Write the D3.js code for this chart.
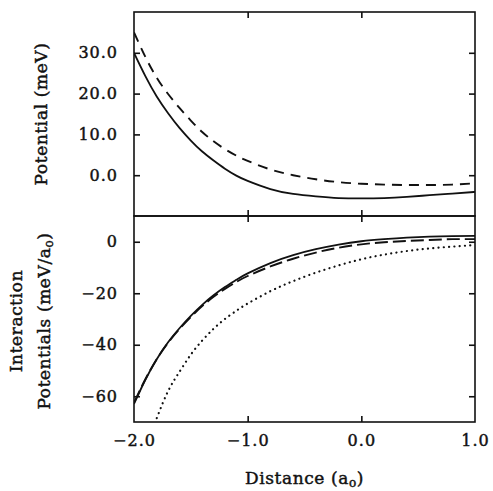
<!DOCTYPE html>
<html><head><meta charset="utf-8">
<script src="https://cdn.jsdelivr.net/npm/d3@7"></script>
<style>body{margin:0;background:#fff}svg{display:block}text{font-family:"DejaVu Serif",serif;fill:#111}</style>
</head><body>
<script>
const xGrid = [-2.0,-1.9,-1.8,-1.7,-1.6,-1.5,-1.4,-1.3,-1.2,-1.1,-1.0,-0.8,-0.6,-0.4,-0.2,0,0.2,0.4,0.6,0.8,1.0];
const topSolid  = [30.0,24.3,19.3,15.2,11.6,8.5,5.8,3.6,1.6,-0.1,-1.4,-3.4,-4.6,-5.2,-5.6,-5.7,-5.6,-5.3,-4.9,-4.5,-4.1];
const topDashed = [35.0,29.0,23.9,19.9,16.5,13.4,10.6,8.3,6.4,4.8,3.5,1.4,0.0,-1.0,-1.7,-2.1,-2.3,-2.4,-2.4,-2.3,-2.0];
const botSolid  = [-63.0,-53.6,-45.6,-39.0,-33.6,-28.8,-24.5,-20.8,-17.6,-14.8,-12.3,-8.3,-5.2,-2.9,-1.1,0.2,1.0,1.6,2.0,2.2,2.3];
const botDashed = [-62.5,-53.4,-45.6,-39.2,-33.9,-29.2,-25.0,-21.4,-18.3,-15.6,-13.3,-9.6,-6.6,-4.2,-2.3,-1.0,-0.2,0.3,0.7,1.0,1.0];
const xDot      = [-1.8,-1.7,-1.6,-1.5,-1.4,-1.3,-1.2,-1.1,-1.0,-0.8,-0.6,-0.4,-0.2,0,0.2,0.4,0.6,0.8,1.0];
const botDotted = [-68.5,-58.0,-50.5,-43.8,-38.4,-33.8,-30.0,-26.8,-24.0,-19.2,-15.3,-12.0,-9.2,-6.8,-5.0,-3.6,-2.6,-1.9,-1.3];
const xTicks = [-2,-1,0,1];
const xTickLabels = ["\u22122.0","\u22121.0","0.0","1.0"];
const topTicks = [30,20,10,0];
const topTickLabels = ["30.0","20.0","10.0","0.0"];
const botTicks = [0,-20,-40,-60];
const botTickLabels = ["0","\u221220","\u221240","\u221260"];

const W=493,H=491;
const L=134,R=475,T=12,MID=216,B=422;
const svg=d3.select("body").append("svg").attr("width",W).attr("height",H);
const x=d3.scaleLinear().domain([-2,1]).range([L,R]);
const yT=d3.scaleLinear().domain([-10,40]).range([MID,T]);
const yB=d3.scaleLinear().domain([-70,10]).range([B,MID]);

const defs=svg.append("defs");
defs.append("clipPath").attr("id","cT").append("rect").attr("x",L).attr("y",T).attr("width",R-L).attr("height",MID-T);
defs.append("clipPath").attr("id","cB").append("rect").attr("x",L).attr("y",MID).attr("width",R-L).attr("height",B-MID);

const tl=6;
const gT=svg.append("g");
gT.append("g").attr("transform",`translate(${L},0)`).call(d3.axisLeft(yT).tickValues(topTicks).tickSize(-tl).tickFormat((d,i)=>topTickLabels[i]).tickPadding(16));
gT.append("g").attr("transform",`translate(${R},0)`).call(d3.axisRight(yT).tickValues(topTicks).tickSize(-tl).tickFormat(""));
gT.append("g").attr("transform",`translate(0,${T})`).call(d3.axisTop(x).tickValues([-1,0]).tickSize(-tl).tickFormat(""));
gT.append("g").attr("transform",`translate(0,${MID})`).call(d3.axisBottom(x).tickValues([-1,0]).tickSize(-tl).tickFormat(""));
const gB=svg.append("g");
gB.append("g").attr("transform",`translate(${L},0)`).call(d3.axisLeft(yB).tickValues(botTicks).tickSize(-tl).tickFormat((d,i)=>botTickLabels[i]).tickPadding(16));
gB.append("g").attr("transform",`translate(${R},0)`).call(d3.axisRight(yB).tickValues(botTicks).tickSize(-tl).tickFormat(""));
gB.append("g").attr("transform",`translate(0,${MID})`).call(d3.axisTop(x).tickValues([-1,0]).tickSize(-tl).tickFormat(""));
gB.append("g").attr("transform",`translate(0,${B})`).call(d3.axisBottom(x).tickValues(xTicks).tickSize(-tl).tickFormat((d,i)=>xTickLabels[i]).tickPadding(13));

svg.selectAll(".domain").remove();
svg.selectAll(".tick line").attr("stroke","#111").attr("stroke-width",1.6);
svg.selectAll(".tick text").style("font-family","'DejaVu Serif',serif").style("font-size","16px").style("letter-spacing","1px").attr("fill","#111").attr("stroke","#111").attr("stroke-width",0.45);
[[T,MID],[MID,B]].forEach(([a,b])=>{
  svg.append("rect").attr("x",L).attr("y",a).attr("width",R-L).attr("height",b-a).attr("fill","none").attr("stroke","#111").attr("stroke-width",1.6);
});
svg.selectAll(".tick").filter(d=>d===-2||d===1).select("line").remove();

const line=(ys,yScale,xs)=>d3.line().x((d,i)=>x(xs[i])).y(d=>yScale(d)).curve(d3.curveNatural)(ys);
const pT=svg.append("g").attr("clip-path","url(#cT)");
pT.append("path").attr("d",line(topSolid,yT,xGrid)).attr("fill","none").attr("stroke","#111").attr("stroke-width",1.8);
pT.append("path").attr("d",line(topDashed,yT,xGrid)).attr("fill","none").attr("stroke","#111").attr("stroke-width",1.9).attr("stroke-dasharray","10,7");
const pB=svg.append("g").attr("clip-path","url(#cB)");
pB.append("path").attr("d",line(botSolid,yB,xGrid)).attr("fill","none").attr("stroke","#111").attr("stroke-width",1.8);
pB.append("path").attr("d",line(botDashed,yB,xGrid)).attr("fill","none").attr("stroke","#111").attr("stroke-width",1.9).attr("stroke-dasharray","13,5");
pB.append("path").attr("d",line(botDotted,yB,xDot)).attr("fill","none").attr("stroke","#111").attr("stroke-width",2.2).attr("stroke-linecap","round").attr("stroke-dasharray","0.1,5.2");

const fs=17;
function lab(t){return t.style("font-size",fs+"px").style("letter-spacing","0.6px").attr("text-anchor","middle").attr("stroke","#111").attr("stroke-width",0.45);}
lab(svg.append("text").attr("transform",`translate(47,${(T+MID)/2}) rotate(-90)`)).text("Potential (meV)");
lab(svg.append("text").attr("transform",`translate(22,${(MID+B)/2+2}) rotate(-90)`)).text("Interaction");
const t2=lab(svg.append("text").attr("transform",`translate(50,${(MID+B)/2+2}) rotate(-90)`));
t2.append("tspan").text("Potentials (meV/a");
t2.append("tspan").attr("dy",3).style("font-size","12px").text("o");
t2.append("tspan").attr("dy",-3).text(")");
const t3=lab(svg.append("text").attr("x",(L+R)/2).attr("y",484));
t3.append("tspan").text("Distance (a");
t3.append("tspan").attr("dy",3).style("font-size","12px").text("o");
t3.append("tspan").attr("dy",-3).text(")");
</script>
</body></html>
